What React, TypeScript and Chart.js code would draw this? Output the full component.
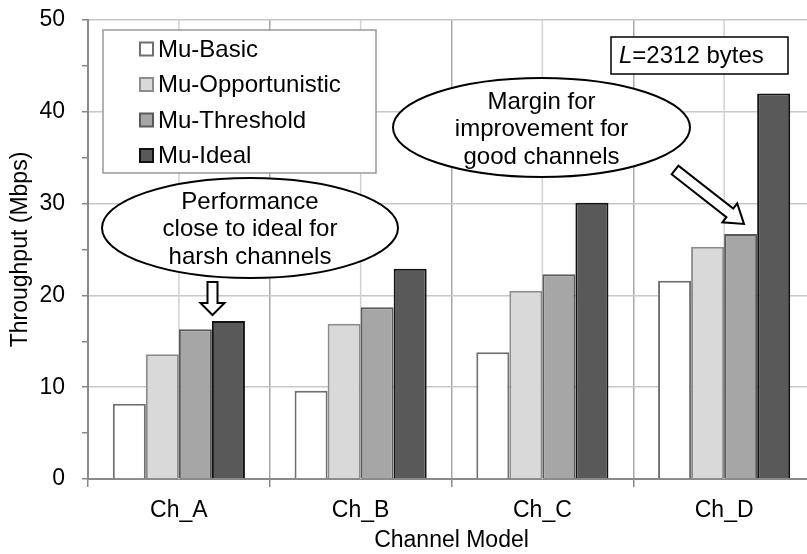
import React, { useEffect, useRef } from "react";
import { Chart, registerables } from "chart.js";

Chart.register(...registerables);

const categories = ["Ch_A", "Ch_B", "Ch_C", "Ch_D"];
const seriesNames = ["Mu-Basic", "Mu-Opportunistic", "Mu-Threshold", "Mu-Ideal"];
const muBasic = [8.2, 9.6, 13.8, 21.6];
const muOpportunistic = [13.6, 16.9, 20.5, 25.3];
const muThreshold = [16.3, 18.7, 22.3, 26.7];
const muIdeal = [17.2, 22.9, 30.1, 42.0];
const fills = ["#ffffff", "#d9d9d9", "#a6a6a6", "#595959"];
const borders = ["#6f6f6f", "#8c8c8c", "#5a5a5a", "#111111"];
const yMin = 0;
const yMax = 50;
const yStep = 5;
const yTitle = "Throughput (Mbps)";
const xTitle = "Channel Model";
const note1 = ["Performance", "close to ideal for", "harsh channels"];
const note2 = ["Margin for", "improvement for", "good channels"];
const lengthNoteItalic = "L";
const lengthNoteRest = "=2312 bytes";

const FONT = "'Liberation Sans', Arial, Helvetica, sans-serif";
const AXIS_SIZE = 23;
const NOTE_SIZE = 24;

function drawArrow(ctx: CanvasRenderingContext2D, tx: number, ty: number, px: number, py: number, w: number, hw: number, hl: number) {
  const dx = px - tx, dy = py - ty;
  const len = Math.hypot(dx, dy);
  const ux = dx / len, uy = dy / len;
  const nx = -uy, ny = ux;
  const bx = px - ux * hl, by = py - uy * hl;
  ctx.beginPath();
  ctx.moveTo(tx + nx * w, ty + ny * w);
  ctx.lineTo(bx + nx * w, by + ny * w);
  ctx.lineTo(bx + nx * hw, by + ny * hw);
  ctx.lineTo(px, py);
  ctx.lineTo(bx - nx * hw, by - ny * hw);
  ctx.lineTo(bx - nx * w, by - ny * w);
  ctx.lineTo(tx - nx * w, ty - ny * w);
  ctx.closePath();
  ctx.fillStyle = "#fff";
  ctx.fill();
  ctx.lineWidth = 2;
  ctx.strokeStyle = "#000";
  ctx.lineJoin = "miter";
  ctx.stroke();
}

function drawEllipseNote(ctx: CanvasRenderingContext2D, cx: number, cy: number, rx: number, ry: number, lines: string[], ys: number[]) {
  ctx.beginPath();
  ctx.ellipse(cx, cy, rx, ry, 0, 0, Math.PI * 2);
  ctx.fillStyle = "#fff";
  ctx.fill();
  ctx.lineWidth = 2;
  ctx.strokeStyle = "#000";
  ctx.stroke();
  ctx.fillStyle = "#000";
  ctx.font = `${NOTE_SIZE}px ${FONT}`;
  ctx.textAlign = "center";
  ctx.textBaseline = "middle";
  lines.forEach((t, i) => ctx.fillText(t, cx, ys[i]));
}

const centerLines = {
  id: "centerLines",
  beforeDatasetsDraw(chart: any) {
    const { ctx, chartArea, scales } = chart;
    ctx.save();
    ctx.strokeStyle = "#d2d2d2";
    ctx.lineWidth = 1.5;
    categories.forEach((_, i) => {
      const x = scales.x.getPixelForValue(i);
      ctx.beginPath();
      ctx.moveTo(x, chartArea.top);
      ctx.lineTo(x, chartArea.bottom);
      ctx.stroke();
    });
    ctx.restore();
  },
};

const overlays = {
  id: "overlays",
  afterDraw(chart: any) {
    const { ctx } = chart;
    ctx.save();
    // legend box
    ctx.fillStyle = "#fff";
    ctx.fillRect(103, 30, 273, 143);
    ctx.lineWidth = 1.5;
    ctx.strokeStyle = "#999";
    ctx.strokeRect(103, 30, 273, 143);
    const rowY = [49, 84.5, 120, 155.5];
    chart.data.datasets.forEach((ds: any, i: number) => {
      ctx.fillStyle = ds.backgroundColor;
      ctx.fillRect(140, rowY[i] - 6.5, 13, 13);
      ctx.lineWidth = 2;
      ctx.strokeStyle = ds.borderColor;
      ctx.strokeRect(140, rowY[i] - 6.5, 13, 13);
      ctx.fillStyle = "#000";
      ctx.font = `${NOTE_SIZE}px ${FONT}`;
      ctx.textAlign = "left";
      ctx.textBaseline = "middle";
      ctx.fillText(ds.label, 158, rowY[i] + 1);
    });

    // L box
    ctx.fillStyle = "#fff";
    ctx.fillRect(611, 37, 177, 37);
    ctx.lineWidth = 1.5;
    ctx.strokeStyle = "#000";
    ctx.strokeRect(611, 37, 177, 37);
    ctx.fillStyle = "#000";
    ctx.textAlign = "left";
    ctx.textBaseline = "middle";
    ctx.font = `italic ${NOTE_SIZE}px ${FONT}`;
    ctx.fillText(lengthNoteItalic, 619, 56);
    const lw = ctx.measureText(lengthNoteItalic).width;
    ctx.font = `${NOTE_SIZE}px ${FONT}`;
    ctx.fillText(lengthNoteRest, 619 + lw, 56);

    // notes
    drawEllipseNote(ctx, 250, 228, 148, 50, note1, [202, 229.5, 257]);
    drawArrow(ctx, 212.5, 282, 212.5, 315, 5, 12, 12);
    drawEllipseNote(ctx, 541.5, 127.5, 148.5, 49.5, note2, [102, 129.5, 157]);
    drawArrow(ctx, 675, 170, 744, 224, 5.5, 12, 18);
    ctx.restore();
  },
};

export default function App() {
  const ref = useRef<HTMLCanvasElement | null>(null);
  useEffect(() => {
    if (!ref.current) return;
    const values = [muBasic, muOpportunistic, muThreshold, muIdeal];
    const chart = new Chart(ref.current, {
      type: "bar",
      data: {
        labels: categories,
        datasets: seriesNames.map((name, i) => ({
          label: name,
          data: values[i],
          backgroundColor: fills[i],
          borderColor: borders[i],
          borderWidth: 2,
          barPercentage: 1,
          categoryPercentage: 0.727,
        })),
      },
      options: {
        responsive: false,
        animation: false,
        layout: { padding: { left: 0, right: 15, top: 20, bottom: 0 } },
        plugins: { legend: { display: false }, tooltip: { enabled: false } },
        scales: {
          x: {
            afterFit: (s: any) => { s.height = 75; },
            grid: { offset: true, color: "#a8a8a8", lineWidth: 1.5, tickColor: "#888", tickLength: 8 },
            border: { color: "#8a8a8a", width: 2 },
            ticks: { color: "#000", font: { family: FONT, size: AXIS_SIZE }, padding: 10 },
            title: { display: true, text: xTitle, color: "#000", font: { family: FONT, size: AXIS_SIZE }, padding: { top: 0, bottom: 0 } },
          },
          y: {
            min: yMin,
            max: yMax,
            afterFit: (s: any) => { s.width = 88; s.paddingTop = 0; s.paddingBottom = 0; },
            grid: {
              color: (c: any) => (c.tick && c.tick.value % 10 === 0 ? "#c8c8c8" : "rgba(0,0,0,0)"),
              lineWidth: 1.5,
              tickColor: "#888",
              tickLength: 6,
            },
            border: { color: "#8a8a8a", width: 2 },
            ticks: {
              stepSize: yStep,
              autoSkip: false,
              color: "#000",
              font: { family: FONT, size: AXIS_SIZE },
              padding: 17,
              callback: (v: any) => (Number(v) % 10 === 0 ? String(v) : ""),
            },
            title: { display: true, text: yTitle, color: "#000", font: { family: FONT, size: AXIS_SIZE }, padding: { top: 7, bottom: 0 } },
          },
        },
      },
      plugins: [centerLines, overlays],
    });
    return () => chart.destroy();
  }, []);
  return (
    <div style={{ position: "absolute", left: 0, top: 0, width: 807, height: 554, overflow: "hidden", background: "#fff" }}>
      <canvas ref={ref} width={830} height={554} style={{ width: 830, height: 554, display: "block" }} />
    </div>
  );
}
